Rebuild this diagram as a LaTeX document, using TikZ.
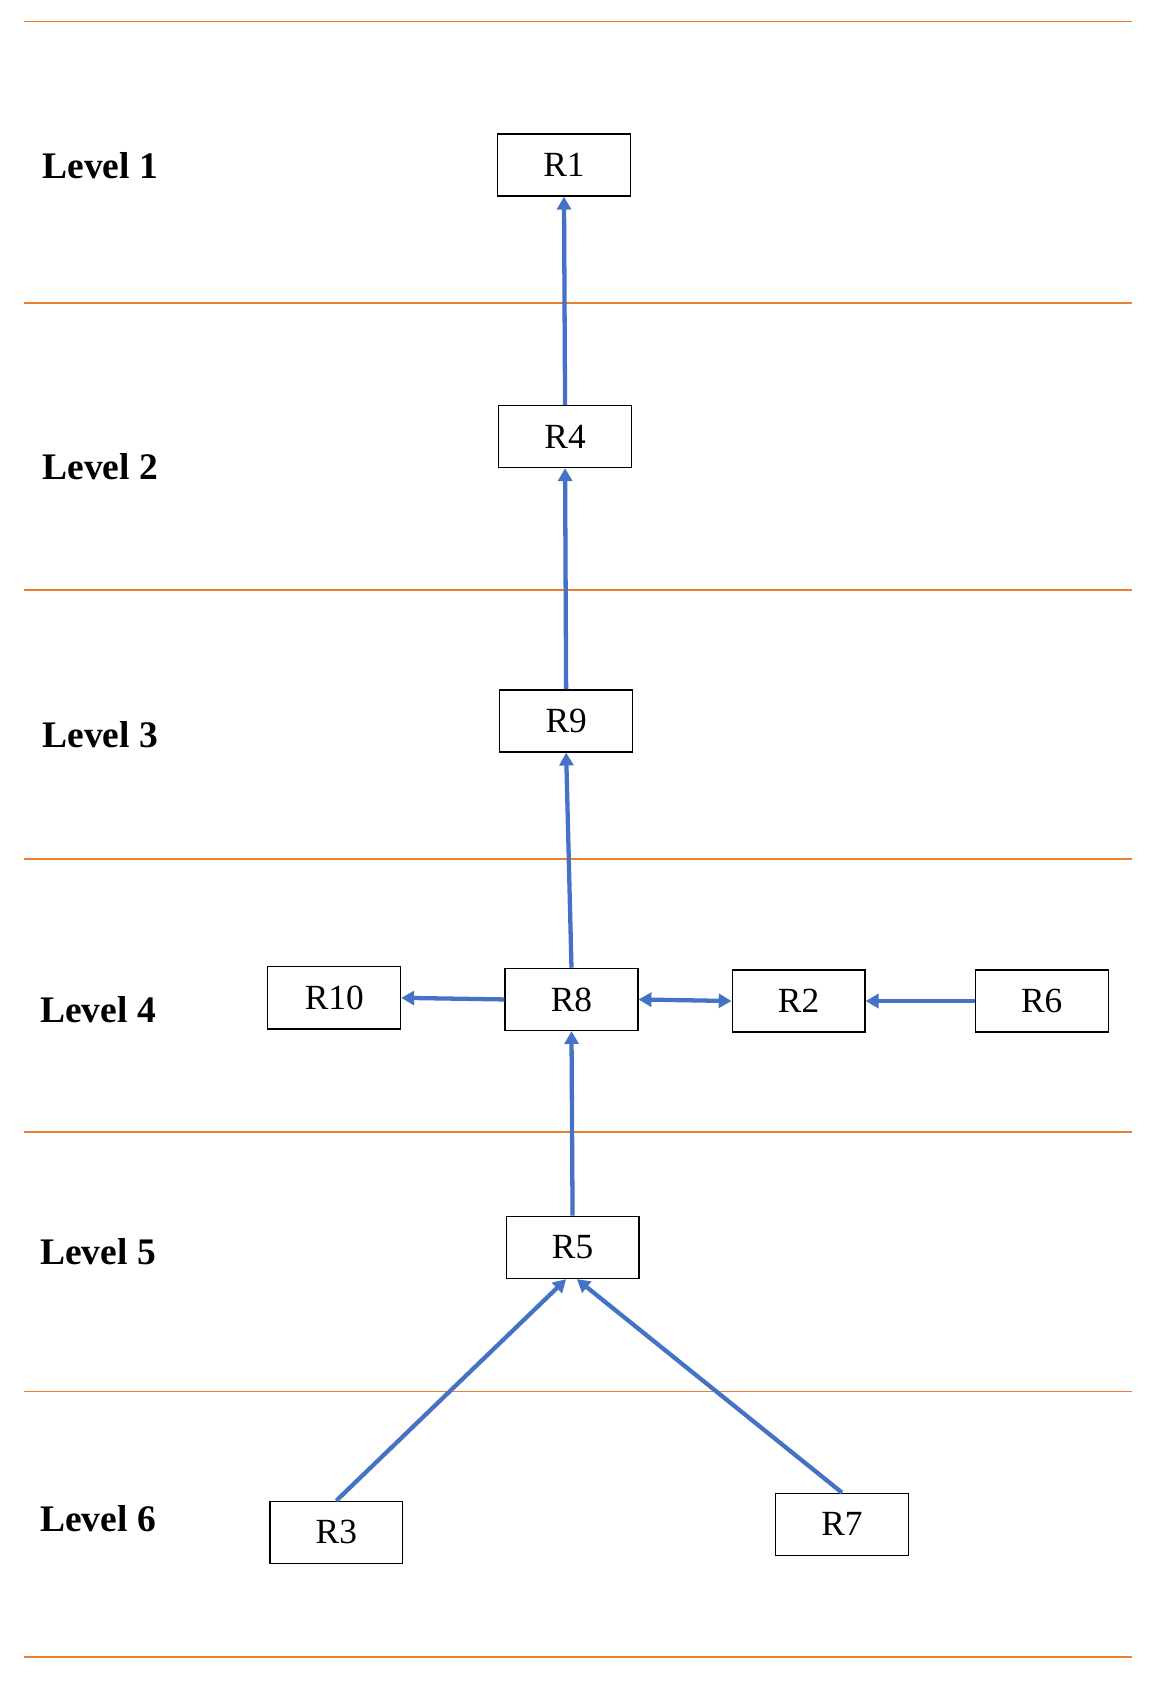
\documentclass[tikz,border=0pt]{standalone}
\usepackage{fontspec}
\setmainfont{Liberation Serif}
\usetikzlibrary{arrows.meta}
\definecolor{lvl}{HTML}{ED7D31}
\definecolor{arr}{HTML}{4472C4}
\begin{document}
\begin{tikzpicture}[x=1pt,y=-1pt,
  box/.style={draw,line width=1.2pt,minimum width=124pt,minimum height=58pt,inner sep=0pt,font=\fontsize{33}{33}\selectfont},
  lab/.style={anchor=west,font=\fontsize{35}{35}\selectfont\bfseries},
  lv/.style={draw=lvl,line width=1.5pt},
  ar/.style={draw=arr,line width=4pt,-{Triangle[length=12pt,width=13pt]}}]
\useasboundingbox (0,0) rectangle (1080,1573);
\foreach \y in {20,283,551,802,1057,1299,1547} \draw[lv] (22,\y) -- (1057,\y);
\node[lab] (l1) at (36,155) {Level 1};
\node[lab] (l2) at (36,436) {Level 2};
\node[lab] (l3) at (36,686) {Level 3};
\node[lab] (l4) at (34,943) {Level 4};
\node[lab] (l5) at (34,1168) {Level 5};
\node[lab] (l6) at (34,1418) {Level 6};
\node[box] (R1) at (526.5,154) {R1};
\node[box] (R4) at (527.5,407.5) {R4};
\node[box] (R9) at (528.5,673) {R9};
\node[box] (R10) at (312,931.5) {R10};
\node[box] (R8) at (533.5,933) {R8};
\node[box] (R2) at (745.5,934.5) {R2};
\node[box] (R6) at (972.5,934.5) {R6};
\node[box] (R5) at (534.5,1164.5) {R5};
\node[box] (R3) at (314,1430.5) {R3};
\node[box] (R7) at (786,1423) {R7};
\draw[ar] (R4.north) -- (R1.south);
\draw[ar] (R9.north) -- (R4.south);
\draw[ar] (R8.north) -- (R9.south);
\draw[ar] (R8.west) -- (R10.east);
\draw[ar,{Triangle[length=12pt,width=13pt]}-{Triangle[length=12pt,width=13pt]}] (R8.east) -- (R2.west);
\draw[ar] (R6.west) -- (R2.east);
\draw[ar] (R5.north) -- (R8.south);
\draw[ar] (R3.north) -- ([xshift=-6pt]R5.south);
\draw[ar] (R7.north) -- ([xshift=4pt]R5.south);
\end{tikzpicture}
\end{document}
